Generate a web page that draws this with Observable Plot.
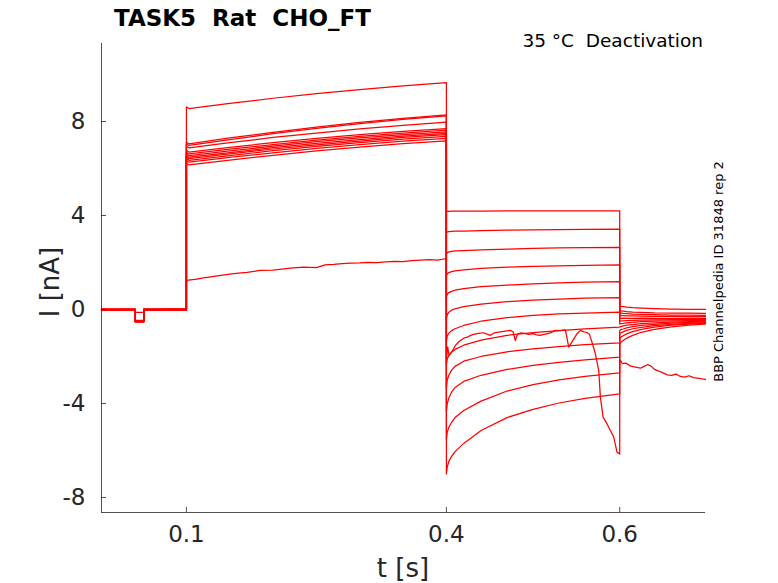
<!DOCTYPE html>
<html><head><meta charset="utf-8">
<script src="https://cdn.jsdelivr.net/npm/d3@7"></script>
<script src="https://cdn.jsdelivr.net/npm/@observablehq/plot@0.6"></script>
<style>
body{margin:0;background:#fff;}
svg text{white-space:pre;}
</style>
</head><body><div id="chart"></div>
<script>
// ---- axis ticks ----
const xTicks = [0.1, 0.4, 0.6];
const yTicks = [-8, -4, 0, 4, 8];
const xDomain = [0.002, 0.699];
const yDomain = [-8.64, 11.32];

// ---- protocol times (s) ----
const tPre = [0.002, 0.041, 0.041, 0.0507, 0.0507, 0.1];
const t1 = [0.1, 0.103, 0.15, 0.2, 0.25, 0.3, 0.35, 0.4];
const t2 = [0.4, 0.401, 0.403, 0.406, 0.41, 0.42, 0.44, 0.47, 0.5, 0.53, 0.56, 0.6];
const t3 = [0.6, 0.601, 0.604, 0.608, 0.615, 0.625, 0.64, 0.66, 0.68, 0.699];

// ---- clean sweeps (nA) ----
const preBase = [0.0, -0.02, 0.01, -0.01, 0.0, -0.03, 0.01, -0.02, 0.0, -0.01, 0.02, -0.02];
const prePulse = [-0.5, -0.48, -0.52, -0.5, -0.47, -0.53, -0.5, -0.49, -0.51, -0.46, -0.54, -0.5];

const step1Values = [
  [8.62, 8.55, 8.77, 8.99, 9.19, 9.36, 9.52, 9.65],
  [7.12, 7.05, 7.30, 7.54, 7.76, 7.96, 8.13, 8.28],
  [7.05, 6.98, 7.23, 7.48, 7.71, 7.91, 8.09, 8.24],
  [6.95, 6.88, 7.10, 7.32, 7.51, 7.69, 7.84, 7.97],
  [6.77, 6.70, 6.90, 7.10, 7.28, 7.44, 7.58, 7.70],
  [6.69, 6.62, 6.82, 7.02, 7.21, 7.37, 7.51, 7.63],
  [6.62, 6.55, 6.75, 6.95, 7.14, 7.30, 7.44, 7.56],
  [6.55, 6.48, 6.68, 6.89, 7.07, 7.23, 7.38, 7.50],
  [6.49, 6.42, 6.62, 6.83, 7.01, 7.17, 7.32, 7.44],
  [6.42, 6.35, 6.55, 6.76, 6.94, 7.10, 7.25, 7.37],
  [6.34, 6.27, 6.47, 6.67, 6.86, 7.02, 7.16, 7.28],
  [6.22, 6.15, 6.36, 6.56, 6.75, 6.91, 7.06, 7.18]
];

const step2Values = [
  [4.18, 4.18, 4.18, 4.19, 4.19, 4.19, 4.19, 4.2, 4.2, 4.2, 4.2, 4.2],
  [3.28, 3.3, 3.31, 3.32, 3.33, 3.34, 3.36, 3.38, 3.39, 3.4, 3.41, 3.42],
  [2.38, 2.42, 2.45, 2.47, 2.49, 2.51, 2.54, 2.57, 2.6, 2.62, 2.63, 2.64],
  [1.45, 1.52, 1.57, 1.61, 1.64, 1.69, 1.75, 1.8, 1.84, 1.86, 1.88, 1.9],
  [0.55, 0.65, 0.72, 0.77, 0.82, 0.89, 0.97, 1.04, 1.09, 1.13, 1.16, 1.19],
  [-0.4, -0.22, -0.11, -0.03, 0.03, 0.12, 0.23, 0.33, 0.4, 0.44, 0.48, 0.51],
  [-1.35, -1.12, -1.0, -0.9, -0.82, -0.68, -0.5, -0.35, -0.25, -0.19, -0.15, -0.11],
  [-2.35, -2.1, -1.95, -1.82, -1.7, -1.52, -1.3, -1.1, -0.98, -0.9, -0.82, -0.75],
  [-3.35, -3.0, -2.78, -2.58, -2.42, -2.2, -2.0, -1.8, -1.68, -1.58, -1.5, -1.42],
  [-4.35, -4.0, -3.75, -3.52, -3.32, -3.06, -2.8, -2.55, -2.38, -2.25, -2.14, -2.03],
  [-5.55, -5.22, -5.0, -4.8, -4.6, -4.3, -3.9, -3.47, -3.2, -3.0, -2.85, -2.7],
  [-7.0, -6.7, -6.45, -6.25, -6.05, -5.7, -5.15, -4.6, -4.25, -3.98, -3.78, -3.59]
];

const tailValues = [
  [0.15, 0.135, 0.12, 0.10, 0.08, 0.06, 0.04, 0.02, 0.01, 0.0],
  [-0.05, -0.06, -0.07, -0.09, -0.11, -0.12, -0.14, -0.15, -0.16, -0.17],
  [-0.15, -0.16, -0.17, -0.18, -0.20, -0.21, -0.22, -0.24, -0.24, -0.25],
  [-0.25, -0.255, -0.26, -0.27, -0.27, -0.28, -0.29, -0.29, -0.30, -0.30],
  [-0.38, -0.38, -0.37, -0.38, -0.38, -0.37, -0.38, -0.38, -0.38, -0.38],
  [-0.50, -0.49, -0.48, -0.47, -0.46, -0.45, -0.44, -0.43, -0.42, -0.42],
  [-0.62, -0.60, -0.59, -0.57, -0.55, -0.52, -0.50, -0.48, -0.47, -0.46],
  [-0.75, -0.73, -0.70, -0.67, -0.64, -0.60, -0.57, -0.54, -0.52, -0.50],
  [-0.90, -0.86, -0.83, -0.78, -0.73, -0.68, -0.63, -0.58, -0.55, -0.53],
  [-1.05, -1.00, -0.95, -0.89, -0.82, -0.76, -0.69, -0.63, -0.59, -0.56],
  [-1.25, -1.18, -1.12, -1.04, -0.94, -0.85, -0.75, -0.67, -0.62, -0.58],
  [-1.50, -1.41, -1.32, -1.22, -1.10, -0.97, -0.85, -0.74, -0.67, -0.62]
];

// ---- noisy sweep ----
const noisyPreT = [0.002, 0.015, 0.03, 0.041, 0.041, 0.0507, 0.0507, 0.065, 0.08, 0.1];
const noisyPreI = [0.0, -0.03, 0.02, 0.0, -0.12, -0.12, 0.0, -0.02, 0.03, 0.0];
const noisy1T = [0.1, 0.102, 0.11, 0.12, 0.13, 0.14, 0.15, 0.16, 0.17, 0.185, 0.2, 0.21, 0.22, 0.235, 0.25, 0.26, 0.27, 0.28, 0.29, 0.3, 0.31, 0.32, 0.33, 0.34, 0.35, 0.36, 0.37, 0.38, 0.39, 0.4];
const noisy1I = [1.2, 1.25, 1.28, 1.35, 1.4, 1.45, 1.5, 1.55, 1.58, 1.66, 1.68, 1.72, 1.76, 1.8, 1.78, 1.9, 1.92, 1.95, 1.97, 1.98, 2.0, 1.99, 2.03, 2.05, 2.04, 2.08, 2.1, 2.12, 2.1, 2.17];
const noisy2T = [0.4, 0.4015, 0.403, 0.4046, 0.407, 0.4104, 0.415, 0.42, 0.424, 0.428, 0.4315, 0.437, 0.443, 0.447, 0.4508, 0.455, 0.4604, 0.466, 0.4738, 0.477, 0.4796, 0.482, 0.4854, 0.49, 0.495, 0.5, 0.504, 0.508, 0.514, 0.52, 0.5258, 0.531, 0.5373, 0.5412, 0.5508, 0.5546, 0.5585, 0.5623, 0.565, 0.568, 0.5719, 0.5758, 0.5777, 0.5808, 0.5854, 0.5892, 0.5931, 0.5969, 0.6];
const noisy2I = [-2.1, -1.6, -1.95, -1.88, -1.75, -1.53, -1.35, -1.22, -1.18, -1.1, -1.06, -1.02, -0.99, -1.05, -1.1, -1.0, -0.96, -0.93, -0.89, -0.95, -1.32, -1.05, -1.0, -1.02, -1.06, -1.03, -1.08, -1.1, -1.05, -1.0, -0.89, -0.9, -0.87, -1.6, -1.03, -0.89, -0.95, -0.98, -1.05, -1.39, -1.89, -2.6, -3.73, -4.58, -4.87, -5.15, -5.43, -6.07, -6.15];
const noisy3T = [0.6, 0.6005, 0.603, 0.607, 0.612, 0.618, 0.624, 0.628, 0.632, 0.636, 0.64, 0.645, 0.65, 0.655, 0.66, 0.665, 0.67, 0.675, 0.68, 0.685, 0.69, 0.695, 0.699];
const noisy3I = [-2.25, -2.15, -2.3, -2.28, -2.4, -2.45, -2.5, -2.42, -2.35, -2.4, -2.55, -2.62, -2.7, -2.78, -2.8, -2.75, -2.85, -2.88, -2.82, -2.9, -2.92, -2.95, -2.97];

// ---- build table ----
const rows = [];
step1Values.forEach((s1, i) => {
  const pre = [preBase[i], preBase[i], prePulse[i], prePulse[i], preBase[i], preBase[i]];
  tPre.forEach((t, j) => rows.push({t, I: pre[j], sweep: i}));
  t1.forEach((t, j) => rows.push({t, I: s1[j], sweep: i}));
  t2.forEach((t, j) => rows.push({t, I: step2Values[i][j], sweep: i}));
  t3.forEach((t, j) => rows.push({t, I: tailValues[i][j], sweep: i}));
});
const N = step1Values.length;
[[noisyPreT, noisyPreI], [noisy1T, noisy1I], [noisy2T, noisy2I], [noisy3T, noisy3I]].forEach(([ts, is]) => {
  ts.forEach((t, j) => rows.push({t, I: is[j], sweep: N}));
});

const W = 778, H = 583;
const mL = 101, mR = 73, mT = 43, mB = 71;
const axisColor = "#262626";

const plot = Plot.plot({
  width: W, height: H,
  marginLeft: mL, marginRight: mR, marginTop: mT, marginBottom: mB,
  style: {fontFamily: "DejaVu Sans", background: "#fff", color: axisColor, overflow: "visible"},
  x: {domain: xDomain},
  y: {domain: yDomain},
  marks: [
    Plot.line(rows, {x: "t", y: "I", z: "sweep", stroke: "#ff0000", strokeWidth: 1.25}),
    Plot.ruleX([xDomain[0]], {stroke: axisColor, strokeWidth: 0.8}),
    Plot.ruleY([yDomain[0]], {stroke: axisColor, strokeWidth: 0.8}),
    Plot.tickX(xTicks, {x: d => d, stroke: axisColor, strokeWidth: 0.8, insetTop: H - mT - mB - 5}),
    Plot.tickY(yTicks, {y: d => d, stroke: axisColor, strokeWidth: 0.8, insetRight: W - mL - mR - 5}),
    Plot.axisX(xTicks, {tickSize: 0, tickPadding: 13, fontSize: 23, tickFormat: d => String(d), label: null, fill: axisColor}),
    Plot.axisY(yTicks, {tickSize: 0, tickPadding: 16, fontSize: 23, tickFormat: d => String(d), label: null, fill: axisColor})
  ]
});

const svg = d3.select(plot);
svg.append("text").attr("x", 114).attr("y", 26).attr("text-anchor", "start")
  .attr("font-family", "DejaVu Sans").attr("font-weight", "bold").attr("font-size", 23).attr("fill", "#000")
  .text("TASK5  Rat  CHO_FT");
svg.append("text").attr("x", 703).attr("y", 47).attr("text-anchor", "end")
  .attr("font-family", "DejaVu Sans").attr("font-size", 18.5).attr("fill", "#000")
  .text("35 °C  Deactivation");
svg.append("text").attr("transform", "translate(723,271.5) rotate(-90)").attr("text-anchor", "middle")
  .attr("font-family", "DejaVu Sans").attr("font-size", 13).attr("fill", "#000")
  .text("BBP Channelpedia ID 31848 rep 2");
svg.append("text").attr("x", 403).attr("y", 577).attr("text-anchor", "middle")
  .attr("font-family", "DejaVu Sans").attr("font-size", 26).attr("fill", axisColor)
  .text("t [s]");
svg.append("text").attr("transform", "translate(59,282) rotate(-90)").attr("text-anchor", "middle")
  .attr("font-family", "DejaVu Sans").attr("font-size", 26).attr("fill", axisColor)
  .text("I [nA]");

document.getElementById("chart").appendChild(plot);
</script>
</body></html>
